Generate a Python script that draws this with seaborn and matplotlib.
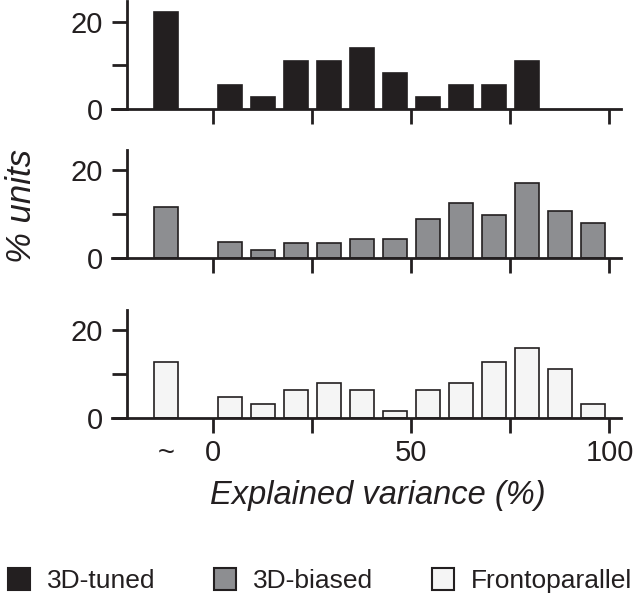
import matplotlib
matplotlib.use("Agg")
import matplotlib.pyplot as plt
import seaborn as sns
import pandas as pd
from matplotlib import font_manager
from matplotlib.patches import Patch

# explained variance bins (first bin is the "~" / unfit group)
bin_x = [-11.8, 4.17, 12.5, 20.83, 29.17, 37.5, 45.83, 54.17, 62.5, 70.83, 79.17, 87.5, 95.83]
tuned = [22.2, 5.6, 2.8, 11.1, 11.1, 13.9, 8.3, 2.8, 5.6, 5.6, 11.1, 0, 0]
biased = [11.6, 3.6, 1.7, 3.4, 3.4, 4.3, 4.3, 8.9, 12.5, 9.7, 17.0, 10.7, 8.0]
fronto = [12.7, 4.8, 3.2, 6.3, 7.9, 6.3, 1.6, 6.3, 7.9, 12.7, 15.9, 11.1, 3.2]

groups = ["3D-tuned", "3D-biased", "Frontoparallel"]
colors = ["#231f20", "#8d8e91", "#f5f5f5"]

xticks = [0, 25, 50, 75, 100]
xticklabels = ["0", "", "50", "", "100"]
yticks = [0, 10, 20]
yticklabels = ["0", "", "20"]

sns.set_style("ticks")
names = {f.name for f in font_manager.fontManager.ttflist}
if "Liberation Sans Narrow" in names:
    tick_font, tick_size, leg_size = "Liberation Sans Narrow", 24, 23.5
else:
    tick_font, tick_size, leg_size = "Liberation Sans", 21, 19
plain = "Liberation Sans" if "Liberation Sans" in names else "DejaVu Sans"
plt.rcParams["font.family"] = [tick_font, "DejaVu Sans"]
ink = "#231f20"

fig = plt.figure(figsize=(6.4, 6.05), dpi=100)
bottoms = [0.8193, 0.574, 0.3096]
axes = [fig.add_axes([0.1745, b, 0.7958, 0.1785]) for b in bottoms]

for i, (ax, vals, c) in enumerate(zip(axes, [tuned, biased, fronto], colors)):
    df = pd.DataFrame({"x": bin_x, "pct": vals})
    df = df[df["pct"] > 0]
    sns.barplot(data=df, x="x", y="pct", native_scale=True, color=c,
                edgecolor=ink, linewidth=1.2, saturation=1, width=0.72,
                errorbar=None, ax=ax)
    ax.set_xlim(-25.6, 102.9)
    ax.set_ylim(0, 24.6)
    ax.set_xlabel("")
    ax.set_ylabel("")
    for s in ["top", "right"]:
        ax.spines[s].set_visible(False)
    ax.spines["left"].set_position(("data", -21.7))
    for s in ["left", "bottom"]:
        ax.spines[s].set_linewidth(2.0)
        ax.spines[s].set_color(ink)
    ax.set_yticks(yticks)
    ax.set_yticklabels(yticklabels)
    ax.set_xticks(xticks)
    if i == 2:
        ax.set_xticklabels(xticklabels)
        ax.set_xticks([-11.8], minor=True)
        ax.set_xticklabels(["~"], minor=True)
    else:
        ax.set_xticklabels([""] * len(xticks))
    ax.tick_params(axis="both", which="major", direction="out", length=11,
                   width=2.0, color=ink, labelsize=tick_size, labelcolor=ink)
    ax.tick_params(axis="y", pad=6.5)
    ax.tick_params(axis="x", pad=4)
    ax.tick_params(axis="x", which="minor", length=0, pad=15, labelsize=tick_size,
                   labelcolor=ink)

axes[2].set_xlabel("Explained variance (%)", fontsize=23.5, fontstyle="italic",
                   family=[plain, "DejaVu Sans"], color=ink, va="center")
axes[2].xaxis.set_label_coords(0.522, -0.716)
axes[1].set_ylabel("% units", fontsize=25, fontstyle="italic",
                   family=[plain, "DejaVu Sans"], color=ink, va="center")
axes[1].yaxis.set_label_coords(-0.178, 0.479)

handles = [Patch(facecolor=c, edgecolor=ink, linewidth=1.5) for c in colors]
fig.legend(handles, groups, loc="center", bbox_to_anchor=(0.5, 0.04), ncol=3,
           frameon=False, fontsize=leg_size, handlelength=0.85, handleheight=0.85,
           handletextpad=0.65, columnspacing=2.2, borderpad=0, borderaxespad=0,
           labelcolor=ink)

fig.savefig("out.png", dpi=100)
